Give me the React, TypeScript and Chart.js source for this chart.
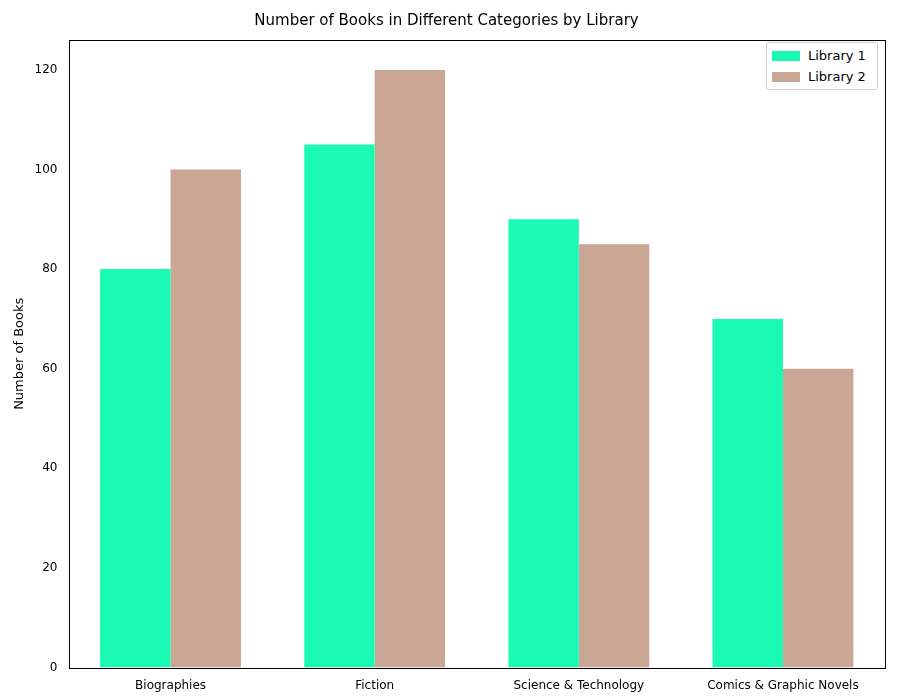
import { Chart, registerables } from 'chart.js';
import { useEffect, useRef } from 'react';

Chart.register(...registerables);

const categories = ['Biographies', 'Fiction', 'Science & Technology', 'Comics & Graphic Novels'];
const library1 = [80, 105, 90, 70];
const library2 = [100, 120, 85, 60];
const yTicks = [0, 20, 40, 60, 80, 100, 120];

const COLOR1 = '#1afab4';
const COLOR2 = '#c9a794';
const FONT = 'DejaVu Sans';

const frame = {
    id: 'frame',
    afterDraw(chart: Chart) {
        const { ctx, chartArea: a } = chart;
        ctx.save();
        ctx.strokeStyle = '#000';
        ctx.lineWidth = 1;
        ctx.strokeRect(Math.round(a.left) + 0.5, Math.round(a.top) + 0.5, Math.round(a.right - a.left), Math.round(a.bottom - a.top));
        ctx.restore();
    },
};

export default function App() {
    const canvasRef = useRef<HTMLCanvasElement | null>(null);

    useEffect(() => {
        if (!canvasRef.current) return;
        const chart = new Chart(canvasRef.current, {
            type: 'bar',
            data: {
                labels: categories,
                datasets: [
                    { label: 'Library 1', data: library1, backgroundColor: COLOR1 },
                    { label: 'Library 2', data: library2, backgroundColor: COLOR2 },
                ],
            },
            options: {
                responsive: false,
                animation: false,
                layout: { padding: { left: 8, right: 15, top: 0, bottom: 4 } },
                datasets: { bar: { categoryPercentage: 0.69, barPercentage: 1 } },
                plugins: {
                    legend: { display: false },
                    tooltip: { enabled: false },
                    title: {
                        display: true,
                        text: 'Number of Books in Different Categories by Library',
                        color: '#000',
                        font: { family: FONT, size: 15, weight: 'normal' },
                        padding: { top: 12, bottom: 10 },
                    },
                },
                scales: {
                    x: {
                        grid: { display: false },
                        border: { display: false },
                        ticks: { color: '#000', font: { family: FONT, size: 12 } },
                    },
                    y: {
                        min: 0,
                        max: 126,
                        afterBuildTicks: (axis) => { axis.ticks = yTicks.map((v) => ({ value: v })); },
                        grid: { display: false, drawTicks: true },
                        border: { display: false },
                        ticks: { color: '#000', font: { family: FONT, size: 12 } },
                        title: { display: true, text: 'Number of Books', color: '#000', font: { family: FONT, size: 13 } },
                    },
                },
            },
            plugins: [frame],
        });
        return () => chart.destroy();
    }, []);

    const item = (color: string, text: string) => (
        <div style={{ display: 'flex', alignItems: 'center', height: 21 }}>
            <span style={{ width: 28, height: 10, background: color, marginRight: 8, display: 'inline-block' }} />
            {text}
        </div>
    );

    return (
        <div style={{ position: 'fixed', left: 0, top: 0, width: 900, height: 700, background: '#fff' }}>
            <canvas ref={canvasRef} width={900} height={700} />
            <div style={{ position: 'absolute', left: 766, top: 42, width: 100, padding: '2px 5px', border: '1px solid #d0d0d0', borderRadius: 3, background: '#fff', fontFamily: FONT, fontSize: 13 }}>
                {item(COLOR1, 'Library 1')}
                {item(COLOR2, 'Library 2')}
            </div>
        </div>
    );
}
